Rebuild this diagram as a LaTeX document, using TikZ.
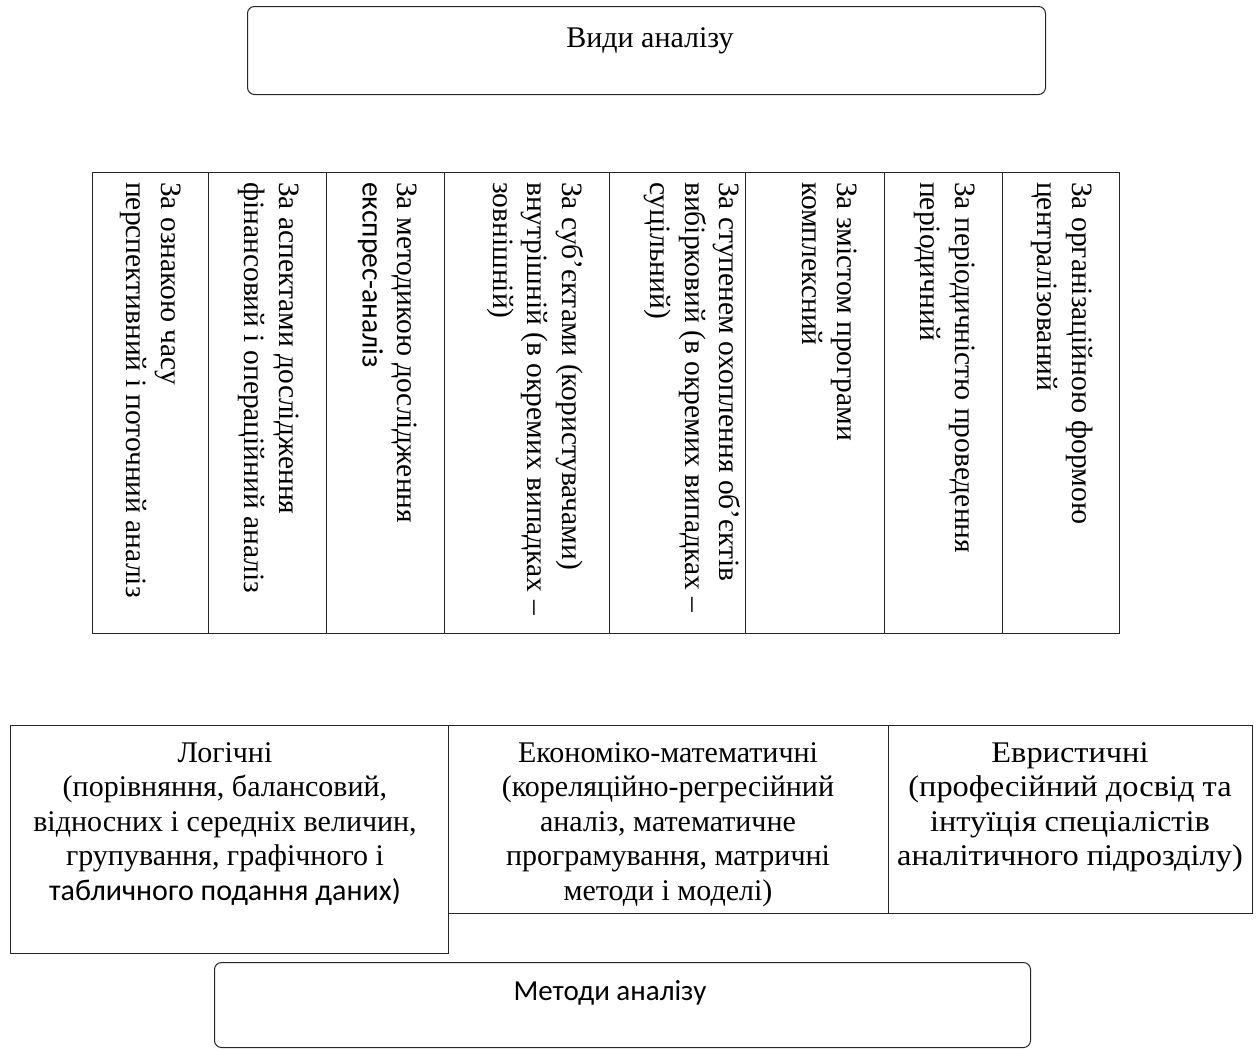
\documentclass[tikz,border=0pt]{standalone}
\usepackage{fontspec}
\setmainfont{Liberation Serif}
\setsansfont{Carlito}
\usepackage{graphicx}
\begin{document}
\begin{tikzpicture}[x=1pt,y=-1pt,
  box/.style={draw=black!85, line width=1pt, inner sep=0pt},
  rbox/.style={box, rounded corners=7pt},
  cell/.style={box, minimum height=461pt, anchor=north west},
  mbox/.style={box, anchor=north west},
  vtxt/.style={rotate=-90, anchor=north west, align=left, inner sep=0pt,
    font=\fontsize{29.5}{34.5}\selectfont},
  htxt/.style={anchor=north, inner sep=0pt, font=\fontsize{30}{34.5}\selectfont},
  ttl/.style={anchor=base, inner sep=0pt},
]
\useasboundingbox (0,0) rectangle (1256,1050);
\fill[white] (0,0) rectangle (1256,1050);

% title box
\node[rbox, anchor=north west, minimum width=798pt, minimum height=88pt] (vydy) at (247,6) {};
\node[ttl, font=\fontsize{30}{36}\selectfont] (vydyt) at (650,47) {Види аналізу};

% columns
\node[cell, minimum width=116pt] (k1) at (92,172) {};
\node[cell, minimum width=118pt] (k2) at (208,172) {};
\node[cell, minimum width=118pt] (k3) at (326,172) {};
\node[cell, minimum width=165pt] (k4) at (444,172) {};
\node[cell, minimum width=136pt] (k5) at (609,172) {};
\node[cell, minimum width=139pt] (k6) at (745,172) {};
\node[cell, minimum width=118pt] (k7) at (884,172) {};
\node[cell, minimum width=117pt] (k8) at (1002,172) {};

\node[vtxt] (t1) at (185.5,182) {\strut За ознакою часу\\перспективний і поточний аналіз};
\node[vtxt] (t2) at (303.5,182) {\strut За аспектами дослідження\\фінансовий і операційний аналіз};
\node[vtxt] (t3) at (421.5,182) {\strut За методикою дослідження\\\sffamily експрес-аналіз};
\node[vtxt] (t4) at (586.5,182) {\strut За суб’єктами (користувачами)\\внутрішній (в окремих випадках –\\зовнішній)};
\node[vtxt] (t5) at (744,182) {\strut За ступенем охоплення об’єктів\\вибірковий (в окремих випадках –\\суцільний)};
\node[vtxt] (t6) at (861.5,182) {\strut За змістом програми\\комплексний};
\node[vtxt] (t7) at (979.5,182) {\strut За періодичністю проведення\\періодичний};
\node[vtxt] (t8) at (1096.5,182) {\strut За організаційною формою\\централізований};

% method boxes
\node[mbox, minimum width=438pt, minimum height=228pt] (m1) at (10,725) {};
\node[mbox, minimum width=440pt, minimum height=188pt] (m2) at (448,725) {};
\node[mbox, minimum width=364pt, minimum height=188pt] (m3) at (888,725) {};

\node[htxt] (m1t) at (225,738) {\begin{tabular}{@{}c@{}}Логічні\\(порівняння, балансовий,\\відносних і середніх величин,\\групування, графічного і\\\sffamily табличного подання даних)\end{tabular}};
\node[htxt] (m2t) at (668,738) {\begin{tabular}{@{}c@{}}Економіко-математичні\\(кореляційно-регресійний\\аналіз, математичне\\програмування, матричні\\методи і моделі)\end{tabular}};
\node[htxt] (m3t) at (1070,738) {\scalebox{1.08}[1]{\begin{tabular}{@{}c@{}}Евристичні\\(професійний досвід та\\інтуїція спеціалістів\\аналітичного підрозділу)\end{tabular}}};

% methods title box
\node[rbox, anchor=north west, minimum width=816pt, minimum height=85pt] (metody) at (214,962) {};
\node[ttl, font=\sffamily\fontsize{29}{35}\selectfont] (metodyt) at (610,1000) {Методи аналізу};
\end{tikzpicture}
\end{document}
